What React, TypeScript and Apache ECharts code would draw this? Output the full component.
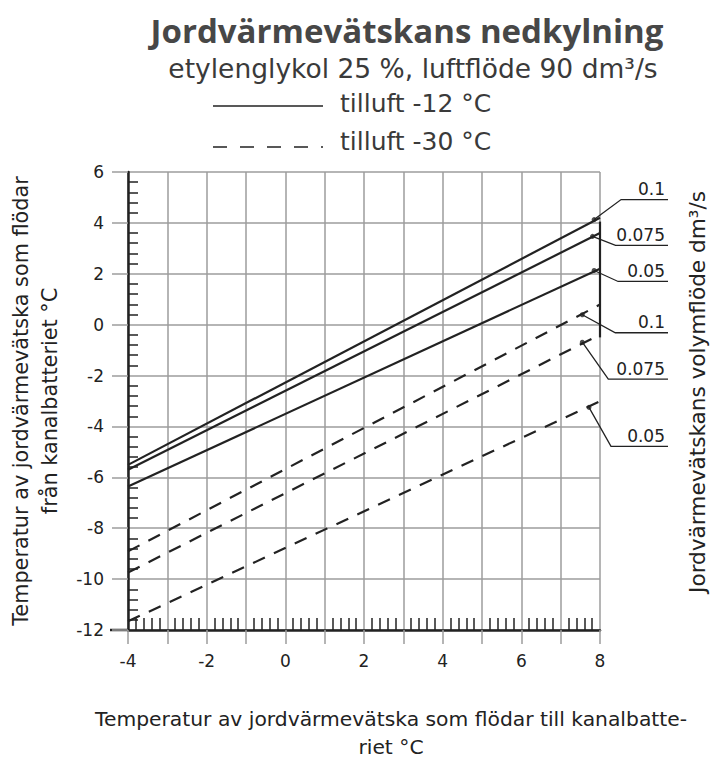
import React, { useEffect, useRef } from 'react';
import * as echarts from 'echarts';

// ---- data ----
const xMin = -4;
const xMax = 8;
const yMin = -12;
const yMax = 6;
const flowLabels = ['0.1', '0.075', '0.05'];
// tilluft -12 °C (solid): value at x=-4 and x=8
const solidStart = [-5.51, -5.7, -6.36];
const solidEnd = [4.2, 3.6, 2.2];
const solidDotX = [7.85, 7.81, 7.85];
const solidDotY = [4.13, 3.47, 2.13];
// tilluft -30 °C (dashed)
const dashedStart = [-8.91, -9.74, -11.66];
const dashedEnd = [0.79, -0.39, -3.01];
const dashedDotX = [7.55, 7.55, 7.72];
const dashedDotY = [0.39, -0.69, -3.25];
// vertical bracket at x = 8
const bracketY = [4.05, -0.5];

const titleText = 'Jordvärmevätskans nedkylning';
const subtitleText = 'etylenglykol 25 %, luftflöde 90 dm³/s';
const legendSolid = 'tilluft -12 °C';
const legendDashed = 'tilluft -30 °C';
const xName = 'Temperatur av jordvärmevätska som flödar till kanalbatte-\nriet °C';
const yName = 'Temperatur av jordvärmevätska som flödar\nfrån kanalbatteriet °C';
const rightName = 'Jordvärmevätskans volymflöde dm³/s';

// ---- layout (pixel offsets of the callout knees relative to the dots) ----
const solidKnee = [[27, -20], [23, 9], [24, 11]];
const dashedKnee = [[33, 18], [26, 37], [22, 39]];

const TITLE_FONT = '"Open Sans", sans-serif';
const FONT = '"DejaVu Sans", sans-serif';
const INK = '#222';
const GRID = '#9c9c9c';

export default function App() {
  const ref = useRef<HTMLDivElement>(null);
  useEffect(() => {
    document.body.style.margin = '0';
    const chart = echarts.init(ref.current!, null, { renderer: 'svg' });

    const lineSeries: any[] = [];
    for (let i = 0; i < 3; i++) {
      lineSeries.push({
        type: 'line',
        name: 'solid ' + flowLabels[i],
        xAxisIndex: 0,
        yAxisIndex: 0,
        symbol: 'none',
        lineStyle: { color: INK, width: 2.2 },
        data: [[xMin, solidStart[i]], [xMax, solidEnd[i]]],
        z: 5,
      });
      lineSeries.push({
        type: 'line',
        name: 'dashed ' + flowLabels[i],
        xAxisIndex: 0,
        yAxisIndex: 0,
        symbol: 'none',
        lineStyle: { color: INK, width: 2.2, type: [13, 10] },
        data: [[xMin, dashedStart[i]], [xMax, dashedEnd[i]]],
        z: 5,
      });
    }
    lineSeries.push({
      type: 'line',
      xAxisIndex: 0,
      yAxisIndex: 0,
      symbol: 'none',
      lineStyle: { color: INK, width: 2.2 },
      data: [[xMax, bracketY[0]], [xMax, bracketY[1]]],
      z: 5,
    });
    const dots: number[][] = [];
    for (let i = 0; i < 3; i++) dots.push([solidDotX[i], solidDotY[i]]);
    for (let i = 0; i < 3; i++) dots.push([dashedDotX[i], dashedDotY[i]]);
    lineSeries.push({
      type: 'scatter',
      xAxisIndex: 0,
      yAxisIndex: 0,
      symbol: 'circle',
      symbolSize: 5,
      itemStyle: { color: INK },
      data: dots,
      z: 6,
    });

    chart.setOption({
      animation: false,
      textStyle: { fontFamily: FONT },
      grid: { left: 128, right: 110, top: 172, bottom: 128, containLabel: false, outerBoundsMode: 'none' },
      xAxis: [
        {
          type: 'value',
          min: xMin,
          max: xMax,
          interval: 1,
          position: 'bottom',
          axisLine: { show: true, onZero: false, lineStyle: { color: INK, width: 2.5 } },
          axisTick: { show: true, length: 14, lineStyle: { color: GRID, width: 1.5 } },
          axisLabel: {
            formatter: (v: number) => (Math.round(v) % 2 === 0 ? String(v) : ''),
            fontSize: 17,
            color: INK,
            margin: 22,
            fontFamily: FONT,
          },
          splitLine: { show: true, lineStyle: { color: GRID, width: 1.5 } },
          name: xName,
          nameLocation: 'middle',
          nameGap: 75,
          nameTextStyle: { fontSize: 20.3, color: INK, lineHeight: 28, fontFamily: FONT, padding: [0, 0, 0, 54] },
        },
        {
          type: 'value',
          min: xMin,
          max: xMax,
          interval: 1,
          position: 'bottom',
          axisLine: { show: false, onZero: false },
          axisTick: { show: false, inside: true },
          minorTick: { show: true, splitNumber: 5, length: 12, lineStyle: { color: INK, width: 1.5 } },
          axisLabel: { show: false },
          splitLine: { show: false },
        },
      ],
      yAxis: [
        {
          type: 'value',
          min: yMin,
          max: yMax,
          interval: 2,
          position: 'left',
          axisLine: { show: true, onZero: false, lineStyle: { color: INK, width: 2.5 } },
          axisTick: { show: true, length: 16, lineStyle: { color: GRID, width: 1.5 } },
          axisLabel: { fontSize: 17, color: INK, margin: 24, fontFamily: FONT },
          splitLine: { show: true, lineStyle: { color: GRID, width: 1.5 } },
          name: yName,
          nameLocation: 'middle',
          nameGap: 64,
          nameTextStyle: { fontSize: 20.8, color: INK, lineHeight: 29, fontFamily: FONT },
        },
        {
          type: 'value',
          min: yMin,
          max: yMax,
          interval: 2,
          position: 'left',
          axisLine: { show: false, onZero: false },
          axisTick: { show: false, inside: true },
          minorTick: { show: true, splitNumber: 5, length: 10, lineStyle: { color: INK, width: 1.5 } },
          axisLabel: { show: false },
          splitLine: { show: false },
        },
        {
          type: 'value',
          min: yMin,
          max: yMax,
          interval: 2,
          position: 'right',
          axisLine: { show: false, onZero: false },
          axisTick: { show: false },
          axisLabel: { show: false },
          splitLine: { show: false },
          name: rightName,
          nameLocation: 'middle',
          nameGap: 86,
          nameTextStyle: { fontSize: 21.6, color: INK, fontFamily: FONT, padding: [0, 0, 0, 18] },
        },
      ],
      series: lineSeries,
    });

    const toPx = (x: number, y: number) =>
      chart.convertToPixel({ gridIndex: 0 } as any, [x, y]) as unknown as number[];
    const rightEdge = toPx(xMax, 0)[0] + 68;
    const gridLeft = toPx(xMin, yMin);

    const g: any[] = [
      // x axis line continues slightly left of the y axis
      {
        type: 'line',
        shape: { x1: gridLeft[0] - 18, y1: gridLeft[1], x2: gridLeft[0], y2: gridLeft[1] },
        style: { stroke: INK, lineWidth: 2.5 },
      },
      {
        type: 'text',
        style: {
          text: titleText, x: 407, y: 30, fontSize: 33, fontWeight: 'bold', fontFamily: TITLE_FONT,
          fill: '#474747', textAlign: 'center', textVerticalAlign: 'middle', align: 'center', verticalAlign: 'middle',
        },
      },
      {
        type: 'text',
        style: {
          text: subtitleText, x: 413, y: 68, fontSize: 26.5, fontFamily: FONT,
          fill: '#3a3a3a', textAlign: 'center', textVerticalAlign: 'middle', align: 'center', verticalAlign: 'middle',
        },
      },
      { type: 'line', shape: { x1: 213, y1: 106, x2: 323, y2: 106 }, style: { stroke: INK, lineWidth: 1.5 } },
      { type: 'line', shape: { x1: 213, y1: 147, x2: 323, y2: 147 }, style: { stroke: INK, lineWidth: 1.5, lineDash: [14, 13] } },
      {
        type: 'text',
        style: {
          text: legendSolid, x: 340, y: 103, fontSize: 25, fontFamily: FONT,
          fill: '#3a3a3a', textAlign: 'left', textVerticalAlign: 'middle', align: 'left', verticalAlign: 'middle',
        },
      },
      {
        type: 'text',
        style: {
          text: legendDashed, x: 340, y: 141, fontSize: 25, fontFamily: FONT,
          fill: '#3a3a3a', textAlign: 'left', textVerticalAlign: 'middle', align: 'left', verticalAlign: 'middle',
        },
      },
    ];

    const addCallout = (dx: number, dy: number, knee: number[], label: string) => {
      const p = toPx(dx, dy);
      const kx = p[0] + knee[0];
      const ky = p[1] + knee[1];
      g.push({
        type: 'polyline',
        shape: { points: [[p[0], p[1]], [kx, ky], [rightEdge, ky]] },
        style: { stroke: INK, lineWidth: 1.3, fill: null },
        z: 10,
      });
      g.push({
        type: 'text',
        style: {
          text: label, x: rightEdge - 3, y: ky - 2, fontSize: 17, fontFamily: FONT, fill: INK,
          textAlign: 'right', textVerticalAlign: 'bottom', align: 'right', verticalAlign: 'bottom',
        },
        z: 10,
      });
    };
    for (let i = 0; i < 3; i++) addCallout(solidDotX[i], solidDotY[i], solidKnee[i], flowLabels[i]);
    for (let i = 0; i < 3; i++) addCallout(dashedDotX[i], dashedDotY[i], dashedKnee[i], flowLabels[i]);

    chart.setOption({ graphic: g });
    return () => chart.dispose();
  }, []);
  return <div ref={ref} style={{ width: 710, height: 758 }} />;
}
